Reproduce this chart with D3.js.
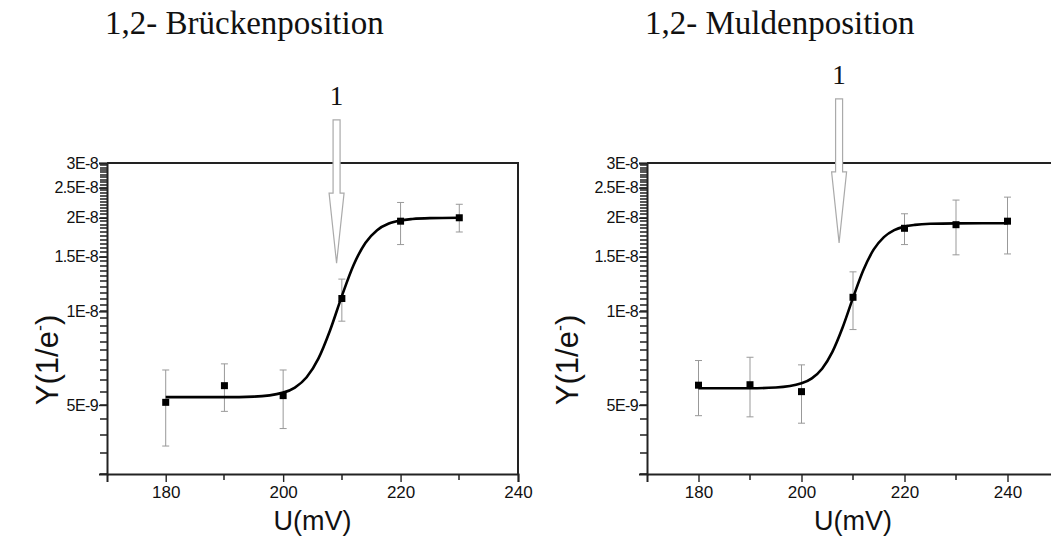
<!DOCTYPE html>
<html>
<head>
<meta charset="utf-8">
<script src="https://cdn.jsdelivr.net/npm/d3@7"></script>
<style>
  body { margin: 0; background: #fff; }
  svg text { fill: #111; }
</style>
</head>
<body>
<div id="chart"></div>
<script>
// ---- data (Y in 1/e-, U in mV) ----
var titles = ['1,2- Brückenposition', '1,2- Muldenposition'];

var uBruecke = [180, 190, 200, 210, 220, 230],
    yBruecke = [5.1e-9, 5.77e-9, 5.36e-9, 1.10e-8, 1.95e-8, 2.0e-8],
    yBrueckeLo = [3.69e-9, 4.77e-9, 4.2e-9, 9.3e-9, 1.64e-8, 1.80e-8],
    yBrueckeHi = [6.48e-9, 6.78e-9, 6.48e-9, 1.27e-8, 2.24e-8, 2.21e-8];

var uMulde = [180, 190, 200, 210, 220, 230, 240],
    yMulde = [5.79e-9, 5.81e-9, 5.52e-9, 1.11e-8, 1.85e-8, 1.90e-8, 1.95e-8],
    yMuldeLo = [4.62e-9, 4.58e-9, 4.37e-9, 8.74e-9, 1.64e-8, 1.52e-8, 1.53e-8],
    yMuldeHi = [6.95e-9, 7.12e-9, 6.73e-9, 1.34e-8, 2.06e-8, 2.28e-8, 2.33e-8];

// fitted sigmoid
var fitUBruecke = [180, 190, 195, 200, 202, 204, 206, 208, 210, 212, 214, 216, 218, 220, 222, 225, 230],
    fitYBruecke = [5.3e-9, 5.3e-9, 5.32e-9, 5.48e-9, 5.69e-9, 6.14e-9, 7.05e-9, 8.7e-9, 1.12e-8, 1.41e-8,
                   1.66e-8, 1.825e-8, 1.916e-8, 1.961e-8, 1.982e-8, 1.995e-8, 2.0e-8];
var fitUMulde = [180, 190, 195, 200, 202, 204, 206, 208, 210, 212, 214, 216, 218, 220, 222, 225, 230, 240],
    fitYMulde = [5.66e-9, 5.66e-9, 5.69e-9, 5.87e-9, 6.09e-9, 6.54e-9, 7.41e-9, 8.89e-9, 1.105e-8, 1.356e-8,
                 1.579e-8, 1.733e-8, 1.825e-8, 1.873e-8, 1.897e-8, 1.913e-8, 1.919e-8, 1.92e-8];

// marker "1" arrows: U position, shaft top, head start, tip (in Y units)
var arrowBruecke = [209.1, 4.13e-8, 2.4e-8, 1.43e-8],
    arrowMulde = [207.3, 4.82e-8, 2.81e-8, 1.66e-8];

var xTicks = [180, 200, 220, 240],
    xMinorBruecke = [190, 210, 230],
    xMinorMulde = [190, 210, 230, 250],
    yTicks = [5e-9, 1e-8, 1.5e-8, 2e-8, 2.5e-8, 3e-8],
    yTickLabels = ['5E-9', '1E-8', '1.5E-8', '2E-8', '2.5E-8', '3E-8'];

////////////////////////////////////////////////////////////
var width = 1051, height = 539;

var svg = d3.select('#chart').append('svg')
  .attr('width', width)
  .attr('height', height)
  .style('display', 'block');

// minor ticks every 0.5E-9 along the log axis
var yMinor = d3.range(6, 60).map(function(k) { return k * 5e-10; });
var sans = '"Liberation Sans", Arial, sans-serif',
    serif = '"Liberation Serif", "Times New Roman", serif';

function drawPanel(p) {
  var x = d3.scaleLinear().domain(p.xDomain).range([p.left, p.right]);
  var y = d3.scaleLog().domain([3e-9, 3e-8]).range([474, 163]);
  var g = svg.append('g');

  // title
  g.append('text')
    .attr('x', p.titleX).attr('y', 34)
    .style('font-family', serif)
    .style('font-size', '33px')
    .text(p.title);

  // frame (top + right)
  g.append('path')
    .attr('d', 'M' + p.left + ',' + y(3e-8) + 'H' + p.right + 'V' + y(3e-9))
    .attr('fill', 'none').attr('stroke', '#222').attr('stroke-width', 2);

  // minor ticks as small filled rects
  g.append('g').selectAll('rect')
    .data(yMinor)
    .enter().append('rect')
    .attr('x', p.left - 7).attr('width', 7)
    .attr('y', function(d) { return Math.round(y(d)) - 0.7; })
    .attr('height', 1.4)
    .attr('fill', '#111');
  g.append('g').selectAll('rect')
    .data(p.xMinor)
    .enter().append('rect')
    .attr('x', function(d) { return Math.round(x(d)) - 0.7; })
    .attr('width', 1.4)
    .attr('y', y(3e-9)).attr('height', 6)
    .attr('fill', '#111');

  // x axis
  var xAxis = g.append('g').attr('transform', 'translate(0,' + y(3e-9) + ')')
    .call(d3.axisBottom(x).tickValues(xTicks).tickSize(8).tickPadding(4).tickFormat(d3.format('d')));
  xAxis.select('.domain').attr('stroke', '#222').attr('stroke-width', 2);
  xAxis.selectAll('text')
    .style('font-family', sans)
    .style('font-size', '17px').attr('fill', '#111');

  // y axis
  var yAxis = g.append('g').attr('transform', 'translate(' + p.left + ',0)')
    .call(d3.axisLeft(y).tickValues(yTicks).tickSize(8).tickPadding(1)
      .tickFormat(function(d, i) { return yTickLabels[i]; }));
  yAxis.select('.domain').attr('stroke', '#222').attr('stroke-width', 2);
  yAxis.selectAll('text')
    .style('font-family', sans)
    .style('font-size', '16px').style('letter-spacing', '-0.6px').attr('fill', '#111');
  g.selectAll('.tick line').attr('stroke', '#222').attr('stroke-width', 1.4);

  // axis titles
  g.append('text')
    .attr('x', (p.left + p.right) / 2).attr('y', 530)
    .attr('text-anchor', 'middle')
    .style('font-family', sans)
    .style('font-size', '27px')
    .text('U(mV)');
  var yl = g.append('text')
    .attr('transform', 'translate(' + p.yLabelX + ',360) rotate(-90)')
    .attr('text-anchor', 'middle')
    .style('font-family', sans)
    .style('font-size', '31px');
  yl.append('tspan').text('Y(1/e');
  yl.append('tspan').attr('dy', -12).style('font-size', '18px').text('-');
  yl.append('tspan').attr('dy', 12).text(')');

  // error bars
  var eb = g.append('g').attr('stroke', '#999').attr('stroke-width', 1);
  p.u.forEach(function(u, i) {
    var cx = x(u);
    eb.append('line').attr('x1', cx).attr('x2', cx).attr('y1', y(p.lo[i])).attr('y2', y(p.hi[i]));
    eb.append('line').attr('x1', cx - 3.5).attr('x2', cx + 3.5).attr('y1', y(p.lo[i])).attr('y2', y(p.lo[i]));
    eb.append('line').attr('x1', cx - 3.5).attr('x2', cx + 3.5).attr('y1', y(p.hi[i])).attr('y2', y(p.hi[i]));
  });

  // fit curve
  var line = d3.line()
    .x(function(d) { return x(d[0]); })
    .y(function(d) { return y(d[1]); })
    .curve(d3.curveMonotoneX);
  g.append('path')
    .datum(d3.zip(p.fitU, p.fitY))
    .attr('d', line)
    .attr('fill', 'none').attr('stroke', '#000').attr('stroke-width', 2.6);

  // points
  g.selectAll('rect.pt')
    .data(d3.zip(p.u, p.y))
    .enter().append('rect')
    .attr('class', 'pt')
    .attr('x', function(d) { return x(d[0]) - 3.5; })
    .attr('y', function(d) { return y(d[1]) - 3.5; })
    .attr('width', 7).attr('height', 7)
    .attr('fill', '#000');

  // hollow arrow with label
  var ax = x(p.arrow[0]), yTop = y(p.arrow[1]), yHead = y(p.arrow[2]), yTip = y(p.arrow[3]);
  g.append('path')
    .attr('d', 'M' + (ax - 3.5) + ',' + yTop + 'H' + (ax + 3.5) + 'V' + yHead + 'L' + (ax + 7.5) + ',' + yHead +
      'L' + ax + ',' + yTip + 'L' + (ax - 7.5) + ',' + yHead + 'L' + (ax - 3.5) + ',' + yHead + 'Z')
    .attr('fill', '#fff').attr('stroke', '#aaa').attr('stroke-width', 1.2);
  g.append('text')
    .attr('x', ax).attr('y', yTop - 15)
    .attr('text-anchor', 'middle')
    .style('font-family', serif)
    .style('font-size', '27px')
    .text('1');
}

drawPanel({
  title: titles[0], titleX: 105,
  left: 107, right: 518, xDomain: [170, 240], xMinor: xMinorBruecke, yLabelX: 58,
  u: uBruecke, y: yBruecke, lo: yBrueckeLo, hi: yBrueckeHi,
  fitU: fitUBruecke, fitY: fitYBruecke, arrow: arrowBruecke
});
drawPanel({
  title: titles[1], titleX: 645,
  left: 647, right: 1059, xDomain: [170, 250], xMinor: xMinorMulde, yLabelX: 578,
  u: uMulde, y: yMulde, lo: yMuldeLo, hi: yMuldeHi,
  fitU: fitUMulde, fitY: fitYMulde, arrow: arrowMulde
});
</script>
</body>
</html>
